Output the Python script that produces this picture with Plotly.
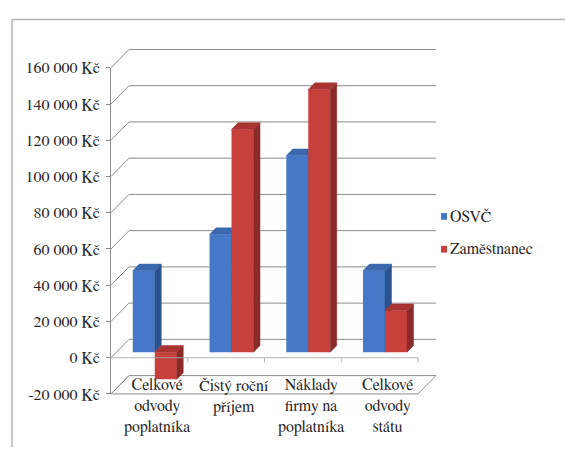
import plotly.graph_objects as go

# ---- data -------------------------------------------------------------
categories = [
    "Celkové<br>odvody<br>poplatníka",
    "Čistý roční<br>příjem",
    "Náklady<br>firmy na<br>poplatníka",
    "Celkové<br>odvody<br>státu",
]
series_names = ["OSVČ", "Zaměstnanec"]
osvc = [45000, 65000, 108500, 45000]
zamestnanec = [-15000, 123000, 145000, 23000]
tick_values = list(range(-20000, 160001, 20000))
tick_labels = [f"{v:,} Kč".replace(",", " ") for v in tick_values]

# ---- geometry (pixels) ------------------------------------------------
W, H = 565, 456
FX0, FX1 = 111, 418          # front plane, horizontal extent
FY_TOP, FY_BOT = 63, 401     # front plane, vertical extent
DX, DY = 18, 19              # depth of the box: right / up
BAR_T0, BAR_T1 = 0.30, 0.66  # bar front / back as a fraction of the depth
Y_MIN, Y_MAX = -20000, 160000
X_MIN, X_MAX = -0.5, 3.5
BAR_W = 0.2866

FONT = "FreeSerif"
TEXT = "#262626"
GRID = "#8c8c8c"
BLUE = dict(front="#4579c8", side="#2c5290", top="#3b68ad")
RED = dict(front="#c8403c", side="#8a2b29", top="#a83532")


def px(x):
    return x / W


def py(y):
    return (H - y) / H


def front_y(v):
    return FY_BOT - (v - Y_MIN) / (Y_MAX - Y_MIN) * (FY_BOT - FY_TOP)


units_x = (X_MAX - X_MIN) / (FX1 - FX0)
units_y = (Y_MAX - Y_MIN) / (FY_BOT - FY_TOP)
ddx = (BAR_T1 - BAR_T0) * DX * units_x
ddy = (BAR_T1 - BAR_T0) * DY * units_y

bx0, by0 = BAR_T0 * DX, BAR_T0 * DY
bar_xdom = [px(FX0 + bx0), px(FX1 + bx0)]
bar_ydom = [py(FY_BOT - by0), py(FY_TOP - by0)]

fig = go.Figure()


def add_series(values, offset, colors, xa, ya, name):
    fig.add_trace(go.Bar(
        x=list(range(len(values))), y=values, width=BAR_W, offset=offset,
        marker=dict(color=colors["front"], line=dict(width=0)),
        name=name, showlegend=False, xaxis=xa, yaxis=ya, hoverinfo="y",
    ))
    tops_x, tops_y, sides_x, sides_y = [], [], [], []
    for i, v in enumerate(values):
        xl = i + offset
        xr = xl + BAR_W
        hi, lo = max(v, 0), min(v, 0)
        tops_x += [xl, xr, xr + ddx, xl + ddx, xl, None]
        tops_y += [hi, hi, hi + ddy, hi + ddy, hi, None]
        sides_x += [xr, xr, xr + ddx, xr + ddx, xr, None]
        sides_y += [lo, hi, hi + ddy, lo + ddy, lo, None]
    for fx, fy, c in ((sides_x, sides_y, colors["side"]), (tops_x, tops_y, colors["top"])):
        fig.add_trace(go.Scatter(
            x=fx, y=fy, mode="lines", fill="toself", fillcolor=c,
            line=dict(color=c, width=0.5), showlegend=False, hoverinfo="skip",
            xaxis=xa, yaxis=ya,
        ))


add_series(osvc, -BAR_W, BLUE, "x2", "y2", series_names[0])
add_series(zamestnanec, 0, RED, "x3", "y3", series_names[1])

shapes = []
# back wall gridlines with their connectors to the front axis
for v in tick_values:
    yf = front_y(v)
    shapes.append(dict(type="line", xref="paper", yref="paper",
                       x0=px(FX0), y0=py(yf), x1=px(FX0 + DX), y1=py(yf - DY),
                       line=dict(color=GRID, width=1), layer="below"))
    if v > Y_MIN:
        shapes.append(dict(type="line", xref="paper", yref="paper",
                           x0=px(FX0 + DX), y0=py(yf - DY), x1=px(FX1 + DX), y1=py(yf - DY),
                           line=dict(color=GRID, width=1), layer="below"))
# floor
shapes.append(dict(type="path", xref="paper", yref="paper",
                   path=(f"M{px(FX0)},{py(FY_BOT)} L{px(FX1)},{py(FY_BOT)} "
                         f"L{px(FX1 + DX)},{py(FY_BOT - DY)} L{px(FX0 + DX)},{py(FY_BOT - DY)} Z"),
                   line=dict(color=GRID, width=1), layer="below"))
# horizontal axis at zero on the front plane, with category ticks
y0 = front_y(0)
shapes.append(dict(type="line", xref="paper", yref="paper",
                   x0=px(FX0), y0=py(y0), x1=px(FX1), y1=py(y0),
                   line=dict(color="rgba(170,170,170,0.85)", width=1), layer="above"))
for k in range(1, 5):
    xk = FX0 + k * (FX1 - FX0) / 4
    shapes.append(dict(type="line", xref="paper", yref="paper",
                       x0=px(xk), y0=py(y0), x1=px(xk), y1=py(y0 + 5),
                       line=dict(color="rgba(170,170,170,0.85)", width=1), layer="above"))
# chart border
shapes.append(dict(type="line", xref="paper", yref="paper", x0=px(12), y0=py(13), x1=px(12), y1=0,
                   line=dict(color="#b4b4b4", width=1.5)))
shapes.append(dict(type="line", xref="paper", yref="paper", x0=px(12), y0=py(13), x1=1, y1=py(13),
                   line=dict(color="#b4b4b4", width=1.5)))

# legend
legend_items = [(series_names[0], BLUE["front"], 217), (series_names[1], RED["front"], 251)]
annotations = []
for name, color, yc in legend_items:
    shapes.append(dict(type="rect", xref="paper", yref="paper",
                       x0=px(441), x1=px(447), y0=py(yc - 3.5), y1=py(yc + 3.5),
                       fillcolor=color, line=dict(width=0)))
    annotations.append(dict(text=name, xref="paper", yref="paper", x=px(448), y=py(yc),
                            xanchor="left", yanchor="middle", showarrow=False,
                            font=dict(size=16)))

# category labels under the bars
for i, label in enumerate(categories):
    annotations.append(dict(text=label, xref="x", yref="paper", x=i, y=py(381),
                            xshift=8, xanchor="center", yanchor="top", align="center",
                            showarrow=False, font=dict(size=16)))

fig.update_layout(
    width=W, height=H,
    margin=dict(l=0, r=0, t=0, b=0),
    font=dict(family=FONT, size=16, color=TEXT),
    paper_bgcolor="white", plot_bgcolor="rgba(0,0,0,0)",
    showlegend=False,
    xaxis=dict(domain=[px(FX0), px(FX1)], range=[X_MIN, X_MAX], visible=False, anchor="y"),
    yaxis=dict(domain=[py(FY_BOT), py(FY_TOP)], range=[Y_MIN, Y_MAX], anchor="x",
               tickvals=tick_values, ticktext=tick_labels, ticks="outside", ticklen=4,
               tickcolor=GRID, showline=True, linecolor=GRID, linewidth=1,
               showgrid=False, zeroline=False, ticklabelstandoff=3,
               tickfont=dict(family=FONT, size=16, color=TEXT)),
    xaxis2=dict(domain=bar_xdom, range=[X_MIN, X_MAX], visible=False, anchor="y2"),
    yaxis2=dict(domain=bar_ydom, range=[Y_MIN, Y_MAX], visible=False, anchor="x2"),
    xaxis3=dict(range=[X_MIN, X_MAX], visible=False, overlaying="x2", anchor="y3"),
    yaxis3=dict(range=[Y_MIN, Y_MAX], visible=False, overlaying="y2", anchor="x3"),
    shapes=shapes,
    annotations=annotations,
)

fig.write_html("out.html")
